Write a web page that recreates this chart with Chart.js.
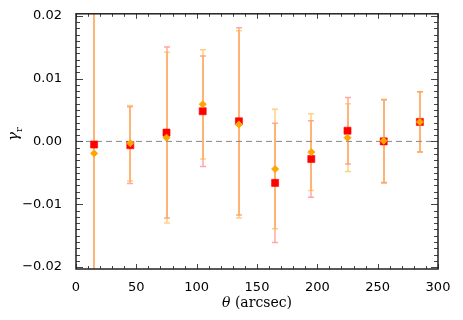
<!DOCTYPE html>
<html>
<head>
<meta charset="utf-8">
<script src="https://cdn.jsdelivr.net/npm/chart.js@4"></script>
<style>
  html, body { margin: 0; padding: 0; background: #fff; }
  #wrap { width: 463px; height: 320px; }
</style>
</head>
<body>
<div id="wrap"><canvas id="myChart"></canvas></div>
<script>
// Data
const theta = [15, 45, 75, 105, 135, 165, 195, 225, 255, 285];
const redVals = [-0.0005, -0.0006, 0.0014, 0.0048, 0.0032, -0.0066, -0.0028, 0.0017, 0.0000, 0.0031];
const redErr = [0.03, 0.0061, 0.0136, 0.0088, 0.0149, 0.0095, 0.0061, 0.0053, 0.0066, 0.0048];
const orangeVals = [-0.0019, -0.0003, 0.0006, 0.0059, 0.0027, -0.0044, -0.0017, 0.0006, 0.0001, 0.0031];
const orangeErr = [0.03, 0.0060, 0.0136, 0.0087, 0.0149, 0.0095, 0.0061, 0.0054, 0.0066, 0.0048];
const xTicks = [0, 50, 100, 150, 200, 250, 300];
const yTicks = [-0.02, -0.01, 0, 0.01, 0.02];

const tickFont = { family: "DejaVu Sans", size: 13 };

// error bars, drawn under the markers
const errorBars = {
  id: 'errorBars',
  beforeDatasetsDraw(chart) {
    const { ctx, chartArea: a, scales: { x, y } } = chart;
    ctx.save();
    ctx.beginPath();
    ctx.rect(a.left, a.top, a.right - a.left, a.bottom - a.top);
    ctx.clip();
    [[redVals, redErr, 'rgba(255,0,0,0.35)'], [orangeVals, orangeErr, 'rgba(255,165,0,0.5)']].forEach(([vals, errs, color]) => {
      ctx.strokeStyle = color;
      ctx.lineWidth = 1.5;
      ctx.beginPath();
      theta.forEach((t, i) => {
        const px = Math.round(x.getPixelForValue(t));
        const top = y.getPixelForValue(vals[i] + errs[i]);
        const bot = y.getPixelForValue(vals[i] - errs[i]);
        ctx.moveTo(px, top); ctx.lineTo(px, bot);
        ctx.moveTo(px - 3, top); ctx.lineTo(px + 3, top);
        ctx.moveTo(px - 3, bot); ctx.lineTo(px + 3, bot);
      });
      ctx.stroke();
    });
    ctx.restore();
  }
};

// box with inward ticks on all four sides + axis titles
const frame = {
  id: 'frame',
  afterDraw(chart) {
    const { ctx, chartArea: { left, right, top, bottom }, scales: { x, y } } = chart;
    ctx.save();
    ctx.strokeStyle = '#444';
    ctx.lineWidth = 1;
    ctx.beginPath();
    for (let i = 0; i <= 30; i++) {
      const px = Math.round(x.getPixelForValue(i * 10)) + 0.5;
      const len = i % 5 === 0 ? 5 : 3;
      ctx.moveTo(px, bottom); ctx.lineTo(px, bottom - len);
      ctx.moveTo(px, top); ctx.lineTo(px, top + len);
    }
    for (let i = -20; i <= 20; i++) {
      const py = Math.round(y.getPixelForValue(i * 0.001)) + 0.5;
      const len = i % 10 === 0 ? 7 : 4;
      ctx.moveTo(left, py); ctx.lineTo(left + len, py);
      ctx.moveTo(right, py); ctx.lineTo(right - len, py);
    }
    ctx.stroke();
    ctx.strokeStyle = '#222';
    ctx.lineWidth = 1.5;
    ctx.strokeRect(left, top, right - left, bottom - top);

    // x title
    ctx.fillStyle = '#000';
    ctx.textBaseline = 'middle';
    const f1 = 'italic 14px "DejaVu Serif"';
    const f2 = '14px "DejaVu Serif"';
    ctx.font = f1;
    const w1 = ctx.measureText('θ').width;
    ctx.font = f2;
    const w2 = ctx.measureText(' (arcsec)').width;
    const cx = (left + right) / 2 - (w1 + w2) / 2;
    ctx.font = f1; ctx.textAlign = 'left';
    ctx.fillText('θ', cx, 303);
    ctx.font = f2;
    ctx.fillText(' (arcsec)', cx + w1, 303);

    // y title, rotated
    ctx.translate(14, (top + bottom) / 2 - 8);
    ctx.rotate(-Math.PI / 2);
    ctx.font = 'italic 15px "DejaVu Serif"';
    const g = ctx.measureText('γ').width;
    ctx.fillText('γ', -g / 2 - 3, 0);
    ctx.font = '10px "DejaVu Serif"';
    ctx.fillText('r', g / 2 - 3, 5);
    ctx.restore();
  }
};

const ctx = document.getElementById('myChart');

new Chart(ctx, {
  type: 'scatter',
  data: {
    datasets: [
      {
        label: 'orange',
        data: theta.map((t, i) => ({ x: t, y: orangeVals[i] })),
        pointStyle: 'rectRot',
        pointRadius: 3.5,
        backgroundColor: '#FFA500',
        borderColor: '#FFA500',
        borderWidth: 1
      },
      {
        label: 'red',
        data: theta.map((t, i) => ({ x: t, y: redVals[i] })),
        pointStyle: 'rect',
        pointRadius: 5,
        backgroundColor: '#FF0000',
        borderColor: 'rgba(255,0,0,0.6)',
        borderWidth: 1
      },
      {
        type: 'line',
        label: 'zero',
        data: [{ x: 0, y: 0 }, { x: 300, y: 0 }],
        borderColor: '#888',
        borderWidth: 1,
        borderDash: [6, 4],
        pointRadius: 0
      }
    ]
  },
  options: {
    responsive: true,
    maintainAspectRatio: false,
    devicePixelRatio: 1,
    animation: false,
    layout: { padding: { left: 0, right: 25, top: 11, bottom: 0 } },
    plugins: {
      legend: { display: false },
      tooltip: { enabled: false }
    },
    scales: {
      x: {
        type: 'linear',
        min: 0,
        max: 300,
        afterBuildTicks: s => { s.ticks = xTicks.map(v => ({ value: v })); },
        afterFit: s => { s.height = 51; },
        grid: { display: false },
        border: { display: false },
        ticks: { font: tickFont, color: '#000', padding: 3, maxRotation: 0 }
      },
      y: {
        min: -0.0203,
        max: 0.0203,
        afterBuildTicks: s => { s.ticks = yTicks.map(v => ({ value: v })); },
        afterFit: s => { s.width = 76; },
        grid: { display: false },
        border: { display: false },
        ticks: {
          font: tickFont,
          color: '#000',
          padding: 6,
          callback: v => v.toFixed(2).replace('-', '−')
        }
      }
    }
  },
  plugins: [errorBars, frame]
});
</script>
</body>
</html>
